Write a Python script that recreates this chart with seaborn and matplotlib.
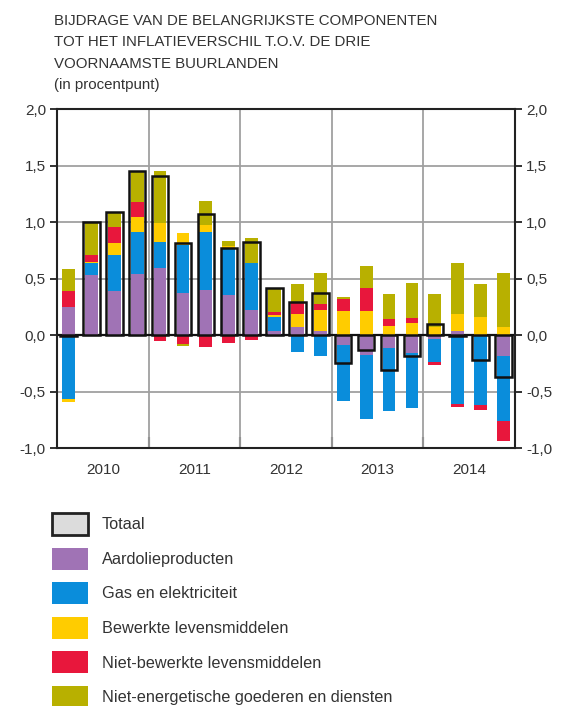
import numpy as np
import matplotlib
matplotlib.use("Agg")
import matplotlib.pyplot as plt
from matplotlib.patches import Patch
import seaborn as sns

# Quarterly contributions (percentage points), 2010 Q1 - 2014 Q4
years = ["2010", "2011", "2012", "2013", "2014"]
quarters = [f"{y}K{q}" for y in years for q in range(1, 5)]

aardolie = [0.25, 0.53, 0.39, 0.54,
            0.59, 0.37, 0.40, 0.35,
            0.22, 0.04, 0.07, 0.04,
            -0.085, -0.18, -0.115, -0.155,
            -0.035, 0.035, 0.0, -0.19]
gas_elek = [-0.57, 0.11, 0.32, 0.37,
            0.235, 0.43, 0.51, 0.42,
            0.42, 0.12, -0.15, -0.19,
            -0.50, -0.56, -0.56, -0.49,
            -0.20, -0.61, -0.62, -0.57]
bewerkt = [-0.02, 0.01, 0.10, 0.135,
           0.17, 0.10, 0.06, 0.02,
           0.0, 0.015, 0.12, 0.185,
           0.21, 0.21, 0.08, 0.11,
           0.07, 0.15, 0.16, 0.07]
onbewerkt = [0.14, 0.06, 0.15, 0.13,
             -0.05, -0.08, -0.11, -0.07,
             -0.04, 0.03, 0.09, 0.05,
             0.105, 0.205, 0.065, 0.04,
             -0.03, -0.025, -0.045, -0.175]
niet_energ = [0.19, 0.285, 0.12, 0.27,
              0.46, -0.015, 0.215, 0.04,
              0.215, 0.215, 0.17, 0.275,
              0.025, 0.20, 0.215, 0.31,
              0.295, 0.45, 0.29, 0.48]
totaal = [-0.01, 1.00, 1.09, 1.45,
          1.41, 0.81, 1.07, 0.77,
          0.82, 0.42, 0.29, 0.37,
          -0.245, -0.13, -0.31, -0.19,
          0.10, -0.01, -0.22, -0.37]

component_names = ["Aardolieproducten", "Gas en elektriciteit",
                   "Bewerkte levensmiddelen", "Niet-bewerkte levensmiddelen",
                   "Niet-energetische goederen en diensten"]
component_values = [aardolie, gas_elek, bewerkt, onbewerkt, niet_energ]
component_colors = ["#a073b5", "#0a8ddb", "#ffcc00", "#e8173c", "#b8b000"]

title = ("BIJDRAGE VAN DE BELANGRIJKSTE COMPONENTEN\n"
         "TOT HET INFLATIEVERSCHIL T.O.V. DE DRIE\n"
         "VOORNAAMSTE BUURLANDEN\n"
         "(in procentpunt)")

sns.set_style("white")
plt.rcParams["font.family"] = ["Liberation Sans Narrow", "Liberation Sans", "DejaVu Sans"]
text_color = "#333333"

fig = plt.figure(figsize=(5.64, 7.06), dpi=100)
ax = fig.add_axes([0.1011, 0.3654, 0.812, 0.4802])

# stacked components: positives build upward, negatives downward
n = len(quarters)
pos_base = np.zeros(n)
neg_base = np.zeros(n)
for vals, col in zip(component_values, component_colors):
    v = np.asarray(vals, dtype=float)
    bottom = np.where(v >= 0, pos_base, neg_base)
    sns.barplot(x=quarters, y=v, bottom=bottom, color=col, saturation=1,
                width=0.56, errorbar=None, linewidth=0, zorder=3, ax=ax)
    pos_base += np.clip(v, 0, None)
    neg_base += np.clip(v, None, 0)

# total as open outlined box
n_before = len(ax.patches)
sns.barplot(x=quarters, y=totaal, color="black", fill=False, saturation=1,
            width=0.72, errorbar=None, linewidth=1.8, zorder=5, ax=ax)
for p in ax.patches[n_before:]:
    p.set_facecolor("none")
    p.set_edgecolor("#111111")
    p.set_linewidth(1.8)

ax.set_xlim(-0.5, n - 0.5)
ax.set_ylim(-1.0, 2.0)

yt = np.arange(-1.0, 2.01, 0.5)
ax.set_yticks(yt)
ax.set_yticklabels([f"{t:.1f}".replace(".", ",") for t in yt])
ax.yaxis.grid(True, color="#a0a0a0", linewidth=1.3, zorder=0)
ax.set_axisbelow(True)
ax.axhline(0, color="#111111", linewidth=1.6, zorder=2)

bounds = [3.5, 7.5, 11.5, 15.5]
for b in bounds:
    ax.axvline(b, color="#a0a0a0", linewidth=1.3, zorder=1)
ax.set_xticks(bounds)
ax.set_xticklabels([])
ax.set_xticks([1.5, 5.5, 9.5, 13.5, 17.5], minor=True)
ax.set_xticklabels(years, minor=True)
ax.set_xlabel("")
ax.set_ylabel("")

ax.tick_params(axis="y", which="major", left=True, right=True,
               labelleft=True, labelright=True, direction="out",
               length=5, width=1.3, color="#222222", labelsize=11,
               labelcolor=text_color, pad=3)
ax.tick_params(axis="x", which="major", bottom=True, direction="in",
               length=8, width=1.5, color="#222222")
ax.tick_params(axis="x", which="minor", bottom=False, length=0,
               labelsize=11, labelcolor=text_color, pad=11)

for side in ["left", "right", "top", "bottom"]:
    ax.spines[side].set_visible(True)
    ax.spines[side].set_color("#222222")
    ax.spines[side].set_linewidth(1.5)

fig.text(54 / 564, 1 - 14 / 706, title, ha="left", va="top",
         fontsize=10.8, color=text_color, linespacing=1.68)

handles = [Patch(facecolor="#dcdcdc", edgecolor="#222222", linewidth=2)]
handles += [Patch(facecolor=c, edgecolor="none") for c in component_colors]
labels = ["Totaal"] + component_names
fig.legend(handles, labels, loc="upper left",
           bbox_to_anchor=(52 / 564, 1 - 513 / 706), frameon=False,
           fontsize=11.7, handlelength=2.2, handleheight=1.7,
           labelspacing=0.78, handletextpad=0.85, borderpad=0,
           borderaxespad=0, labelcolor=text_color)

fig.savefig("out.png", dpi=100)
